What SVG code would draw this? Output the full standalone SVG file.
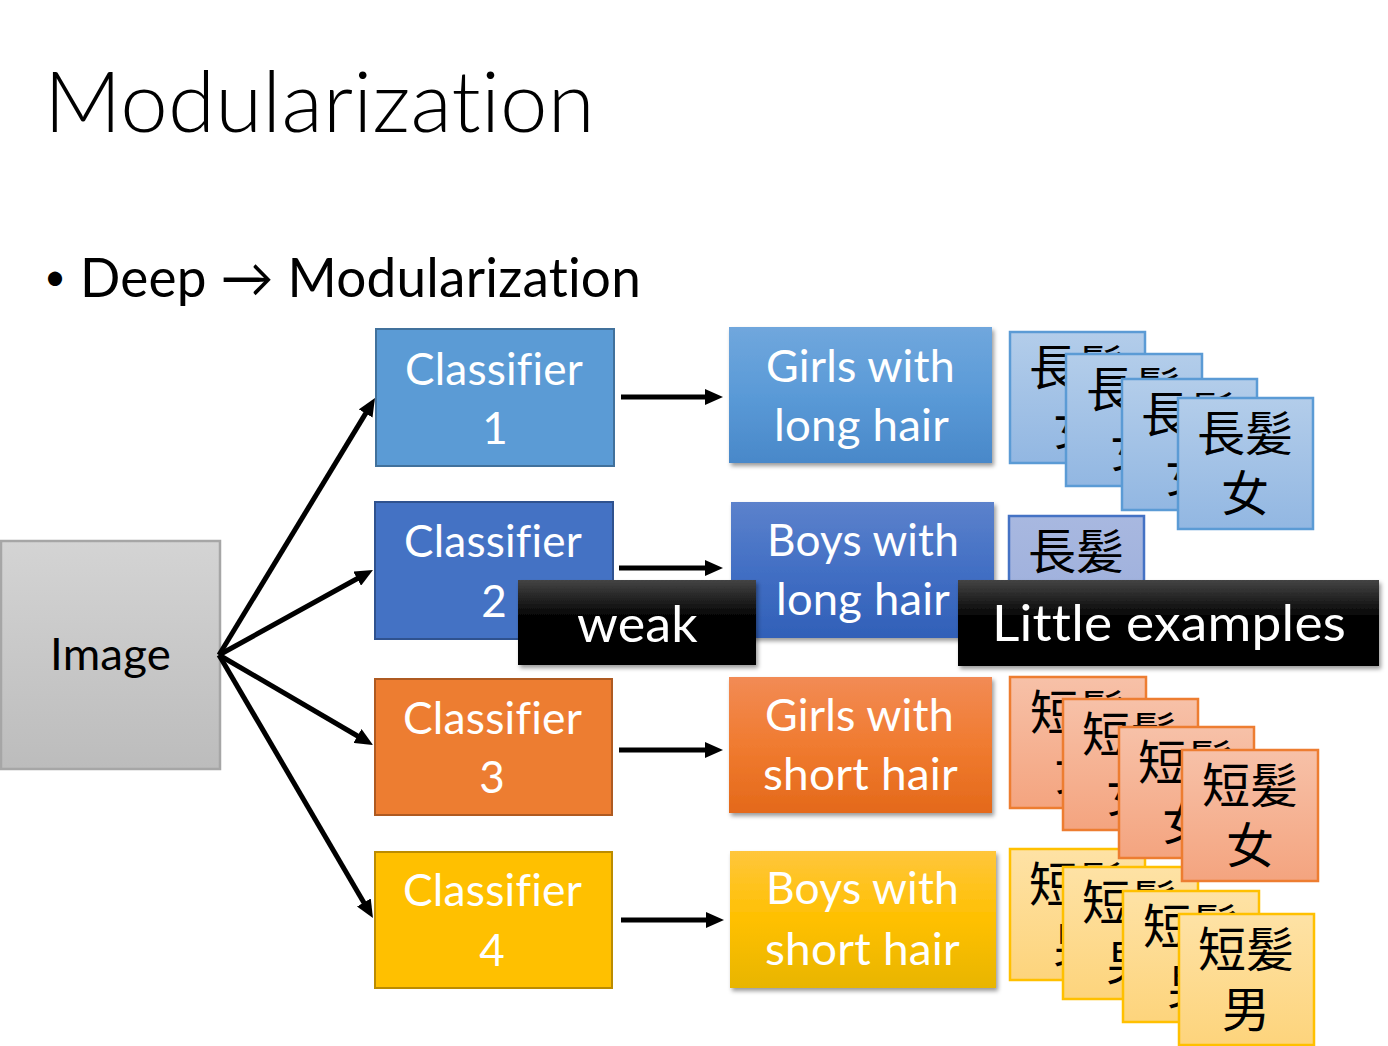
<svg xmlns="http://www.w3.org/2000/svg" width="1388" height="1046" viewBox="0 0 1388 1046">
<defs>
<style>
.lat{font-family:Lato,"Open Sans","Liberation Sans",sans-serif;font-variant-ligatures:none;font-feature-settings:"liga" 0,"clig" 0,"dlig" 0;letter-spacing:0.2px;}
.wt{fill:#ffffff;font-size:44px;}
.cjk{font-family:"Noto Sans CJK TC","Noto Sans CJK JP",sans-serif;font-size:48px;fill:#000;text-anchor:middle;}
.conn{stroke:#000;stroke-width:5;fill:none;marker-end:url(#ah);}
.card1{fill:url(#gB1);stroke:#5b9bd5;stroke-width:2.5;}
.card2{fill:url(#gB2);stroke:#4472c4;stroke-width:2.5;}
.card3{fill:url(#gO);stroke:#ed7d31;stroke-width:2.5;}
.card4{fill:url(#gY);stroke:#ffc000;stroke-width:2.5;}
</style>
<marker id="ah" viewBox="0 0 18 16" refX="8" refY="8" markerWidth="18" markerHeight="16" markerUnits="userSpaceOnUse" orient="auto">
<path d="M0,0 L18,8 L0,16 z" fill="#000"/>
</marker>
<filter id="sh" x="-10%" y="-10%" width="125%" height="130%">
<feDropShadow dx="2" dy="3" stdDeviation="2" flood-color="#000" flood-opacity="0.4"/>
</filter>
<linearGradient id="gImg" x1="0" y1="0" x2="0" y2="1"><stop offset="0" stop-color="#d4d4d4"/><stop offset="1" stop-color="#bcbcbc"/></linearGradient>
<linearGradient id="gGL" x1="0" y1="0" x2="0" y2="1"><stop offset="0" stop-color="#70a7dd"/><stop offset="0.5" stop-color="#5a9ad7"/><stop offset="1" stop-color="#4988c9"/></linearGradient>
<linearGradient id="gBL" x1="0" y1="0" x2="0" y2="1"><stop offset="0" stop-color="#5c82cc"/><stop offset="0.5" stop-color="#426fc4"/><stop offset="1" stop-color="#3160b8"/></linearGradient>
<linearGradient id="gGS" x1="0" y1="0" x2="0" y2="1"><stop offset="0" stop-color="#f28b55"/><stop offset="0.5" stop-color="#f07b30"/><stop offset="1" stop-color="#e4691a"/></linearGradient>
<linearGradient id="gBS" x1="0" y1="0" x2="0" y2="1"><stop offset="0" stop-color="#ffc63c"/><stop offset="0.5" stop-color="#ffc000"/><stop offset="1" stop-color="#e8b500"/></linearGradient>
<linearGradient id="gBlk" x1="0" y1="0" x2="0" y2="1"><stop offset="0" stop-color="#444444"/><stop offset="0.45" stop-color="#000000"/><stop offset="1" stop-color="#000000"/></linearGradient>
<linearGradient id="gB1" x1="0" y1="0" x2="0" y2="1"><stop offset="0" stop-color="#b3cdea"/><stop offset="1" stop-color="#92b7e2"/></linearGradient>
<linearGradient id="gB2" x1="0" y1="0" x2="0" y2="1"><stop offset="0" stop-color="#a8b8e0"/><stop offset="1" stop-color="#9aacda"/></linearGradient>
<linearGradient id="gO" x1="0" y1="0" x2="0" y2="1"><stop offset="0" stop-color="#f7c1a8"/><stop offset="1" stop-color="#f4a47f"/></linearGradient>
<linearGradient id="gY" x1="0" y1="0" x2="0" y2="1"><stop offset="0" stop-color="#fee2a5"/><stop offset="1" stop-color="#fdd47c"/></linearGradient>
</defs>
<rect width="1388" height="1046" fill="#ffffff"/>

<g id="title">
<text class="lat" x="44" y="132" font-size="84" font-weight="300" fill="#000" textLength="551" lengthAdjust="spacingAndGlyphs">Modularization</text>
</g>
<g id="bullet">
<text class="lat" x="44" y="290" font-size="38" fill="#000">•</text>
<text class="lat" x="80" y="297" font-size="54" fill="#000" textLength="561" lengthAdjust="spacingAndGlyphs">Deep → Modularization</text>
</g>

<g id="image">
<rect x="1" y="541" width="219" height="228" fill="url(#gImg)" stroke="#a6a6a6" stroke-width="2.5"/>
<text class="lat" x="50" y="670" font-size="44" fill="#000" textLength="121" lengthAdjust="spacingAndGlyphs">Image</text>
</g>

<g id="classifier1">
<rect x="376" y="329" width="238" height="137" fill="#5b9bd5" stroke="#41719c" stroke-width="2"/>
<text class="lat wt" x="405" y="385" textLength="178" lengthAdjust="spacingAndGlyphs">Classifier</text>
<text class="lat wt" x="495" y="444" text-anchor="middle">1</text>
</g>
<g id="classifier2">
<rect x="375" y="502" width="238" height="137" fill="#4472c4" stroke="#2f528f" stroke-width="2"/>
<text class="lat wt" x="404" y="557" textLength="178" lengthAdjust="spacingAndGlyphs">Classifier</text>
<text class="lat wt" x="494" y="617" text-anchor="middle">2</text>
</g>
<g id="classifier3">
<rect x="375" y="679" width="237" height="136" fill="#ed7d31" stroke="#ae5a21" stroke-width="2"/>
<text class="lat wt" x="403" y="734" textLength="179" lengthAdjust="spacingAndGlyphs">Classifier</text>
<text class="lat wt" x="492" y="793" text-anchor="middle">3</text>
</g>
<g id="classifier4">
<rect x="375" y="852" width="237" height="136" fill="#ffc000" stroke="#bc8c00" stroke-width="2"/>
<text class="lat wt" x="403" y="906" textLength="179" lengthAdjust="spacingAndGlyphs">Classifier</text>
<text class="lat wt" x="492" y="966" text-anchor="middle">4</text>
</g>

<g id="out1">
<rect x="729" y="327" width="263" height="136" fill="url(#gGL)" filter="url(#sh)"/>
<text class="lat wt" x="766" y="382" textLength="189" lengthAdjust="spacingAndGlyphs">Girls with</text>
<text class="lat wt" x="774" y="441" textLength="175" lengthAdjust="spacingAndGlyphs">long hair</text>
</g>
<g id="out2">
<rect x="731" y="502" width="263" height="136" fill="url(#gBL)" filter="url(#sh)"/>
<text class="lat wt" x="767" y="556" textLength="192" lengthAdjust="spacingAndGlyphs">Boys with</text>
<text class="lat wt" x="776" y="615" textLength="174" lengthAdjust="spacingAndGlyphs">long hair</text>
</g>
<g id="out3">
<rect x="729" y="677" width="263" height="136" fill="url(#gGS)" filter="url(#sh)"/>
<text class="lat wt" x="765" y="731" textLength="189" lengthAdjust="spacingAndGlyphs">Girls with</text>
<text class="lat wt" x="763" y="790" textLength="195" lengthAdjust="spacingAndGlyphs">short hair</text>
</g>
<g id="out4">
<rect x="730" y="851" width="266" height="137" fill="url(#gBS)" filter="url(#sh)"/>
<text class="lat wt" x="766" y="904" textLength="193" lengthAdjust="spacingAndGlyphs">Boys with</text>
<text class="lat wt" x="765" y="965" textLength="195" lengthAdjust="spacingAndGlyphs">short hair</text>
</g>

<g id="cards-long-girls">
<rect class="card1" x="1010" y="332" width="135" height="131"/>
<text class="cjk" x="1077" y="385">長髪</text><text class="cjk" x="1077" y="445">女</text>
<rect class="card1" x="1066" y="354" width="136" height="132"/>
<text class="cjk" x="1134" y="407">長髪</text><text class="cjk" x="1134" y="467">女</text>
<rect class="card1" x="1122" y="379" width="135" height="131"/>
<text class="cjk" x="1189" y="432">長髪</text><text class="cjk" x="1189" y="492">女</text>
<rect class="card1" x="1178" y="398" width="135" height="131"/>
<text class="cjk" x="1245" y="451">長髪</text><text class="cjk" x="1245" y="511">女</text>
</g>

<g id="card-long-boys">
<rect class="card2" x="1009" y="516" width="135" height="131"/>
<text class="cjk" x="1076" y="569">長髪</text>
</g>

<g id="cards-short-boys">
<rect class="card4" x="1010" y="849" width="135" height="131"/>
<text class="cjk" x="1077" y="902">短髪</text><text class="cjk" x="1077" y="962">男</text>
<rect class="card4" x="1063" y="867" width="135" height="132"/>
<text class="cjk" x="1130" y="920">短髪</text><text class="cjk" x="1130" y="980">男</text>
<rect class="card4" x="1123" y="891" width="136" height="131"/>
<text class="cjk" x="1191" y="944">短髪</text><text class="cjk" x="1191" y="1004">男</text>
<rect class="card4" x="1179" y="914" width="135" height="131"/>
<text class="cjk" x="1246" y="967">短髪</text><text class="cjk" x="1246" y="1027">男</text>
</g>

<g id="cards-short-girls">
<rect class="card3" x="1010" y="677" width="136" height="131"/>
<text class="cjk" x="1078" y="730">短髪</text><text class="cjk" x="1078" y="790">女</text>
<rect class="card3" x="1063" y="699" width="135" height="131"/>
<text class="cjk" x="1130" y="752">短髪</text><text class="cjk" x="1130" y="812">女</text>
<rect class="card3" x="1119" y="727" width="135" height="131"/>
<text class="cjk" x="1186" y="780">短髪</text><text class="cjk" x="1186" y="840">女</text>
<rect class="card3" x="1182" y="750" width="136" height="131"/>
<text class="cjk" x="1250" y="803">短髪</text><text class="cjk" x="1250" y="863">女</text>
</g>

<g id="connectors">
<line class="conn" x1="219" y1="655" x2="369.8" y2="406.6"/>
<line class="conn" x1="219" y1="655" x2="364.2" y2="574.8"/>
<line class="conn" x1="219" y1="655" x2="364.4" y2="740"/>
<line class="conn" x1="219" y1="655" x2="367.9" y2="909.4"/>
<line class="conn" x1="621" y1="397" x2="713" y2="397"/>
<line class="conn" x1="619" y1="568" x2="713" y2="568"/>
<line class="conn" x1="619" y1="750" x2="713" y2="750"/>
<line class="conn" x1="621" y1="920" x2="714" y2="920"/>
</g>

<g id="label-weak">
<rect x="518" y="580" width="238" height="85" fill="url(#gBlk)" filter="url(#sh)"/>
<text class="lat" x="577" y="642" font-size="50" fill="#fff" textLength="121" lengthAdjust="spacingAndGlyphs">weak</text>
</g>
<g id="label-little">
<rect x="958" y="580" width="421" height="86" fill="url(#gBlk)" filter="url(#sh)"/>
<text class="lat" x="992" y="641" font-size="50" fill="#fff" textLength="354" lengthAdjust="spacingAndGlyphs">Little examples</text>
</g>
</svg>
